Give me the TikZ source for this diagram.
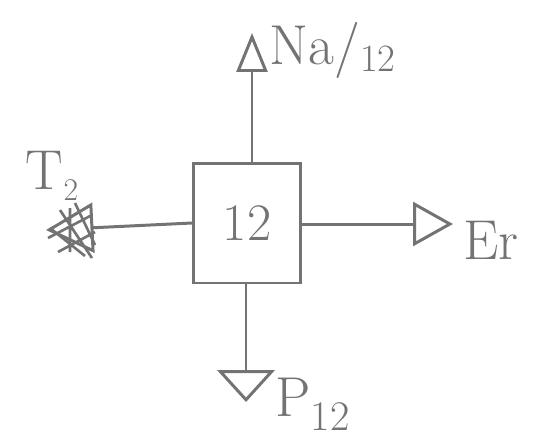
\documentclass[tikz,border=0pt]{standalone}
\usepackage{fontspec}
\usetikzlibrary{arrows.meta}
\begin{document}
\begin{tikzpicture}[x=0.02cm,y=-0.02cm,line width=1.7pt,color=black!55,
  lbl/.style={font=\fontsize{32}{32}\selectfont,inner sep=0pt,anchor=west},
  boxnode/.style={draw,minimum width=2.14cm,minimum height=2.4cm,inner sep=0pt,font=\fontsize{30}{30}\selectfont},
  uptip/.style={-{Triangle[open,length=0.78cm,width=0.62cm]}},
  rttip/.style={-{Triangle[open,length=0.8cm,width=0.88cm]}},
  lftip/.style={-{Triangle[open,length=0.95cm,width=1.0cm]}},
  dntip/.style={-{Triangle[open,length=0.64cm,width=1.15cm]}}]
\useasboundingbox (0,0) rectangle (537,444);
\node[boxnode] (b) at (247,223) {12};
\coordinate (up) at (252,33);
\coordinate (rt) at (453,224);
\coordinate (dn) at (246,402);
\coordinate (lt) at (46,230);
\draw[uptip] (b.north -| up) -- (up);
\draw[rttip] (b.east |- rt) -- (rt);
\draw[dntip] (b.south -| dn) -- (dn);
\draw[lftip] (b.west) -- (lt);
% scribbled hatching over the left head
\draw[line width=1.5pt] (60,210) -- (92,258) (75,203) -- (95,245) (50,228) -- (85,256)
  (48,238) -- (92,215) (58,252) -- (95,232) (70,208) -- (70,252);
\node[lbl] (na) at (268,50) {Na/\raisebox{-4pt}{\fontsize{22}{22}\selectfont 12}};
\node[lbl] (er) at (462,240) {Er};
\node[lbl] (p) at (274,404) {P\raisebox{-8pt}{\fontsize{24}{24}\selectfont 12}};
\node[lbl,anchor=center] (t) at (52,176) {T\raisebox{-6pt}{\fontsize{18}{18}\selectfont 2}};
\end{tikzpicture}
\end{document}
